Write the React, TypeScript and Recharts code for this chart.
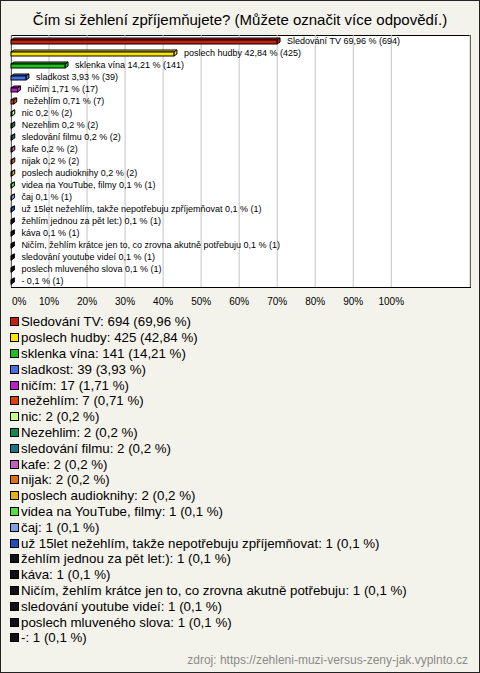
import { Bar, BarChart, CartesianGrid, Cell, LabelList, XAxis, YAxis } from "recharts";

const categories = [
  "Sledování TV",
  "poslech hudby",
  "sklenka vína",
  "sladkost",
  "ničím",
  "nežehlím",
  "nic",
  "Nezehlim",
  "sledování filmu",
  "kafe",
  "nijak",
  "poslech audioknihy",
  "videa na YouTube, filmy",
  "čaj",
  "už 15let nežehlím, takže nepotřebuju zpříjemňovat",
  "žehlím jednou za pět let:)",
  "káva",
  "Ničím, žehlím krátce jen to, co zrovna akutně potřebuju",
  "sledování youtube videí",
  "poslech mluveného slova",
  "-",
];

const counts = [694, 425, 141, 39, 17, 7, 2, 2, 2, 2, 2, 2, 1, 1, 1, 1, 1, 1, 1, 1, 1];

const percents = [69.96, 42.84, 14.21, 3.93, 1.71, 0.71, 0.2, 0.2, 0.2, 0.2, 0.2, 0.2, 0.1, 0.1, 0.1, 0.1, 0.1, 0.1, 0.1, 0.1, 0.1];

const colors = [
  "#c4200c", "#ffe400", "#1fbf1f", "#4470e0", "#c01ec8", "#e0400e", "#c8ff88",
  "#0f8a50", "#16788a", "#c45ec4", "#e07010", "#e4b012", "#50e040", "#80a0e4",
  "#2050c0", "#111111", "#111111", "#111111", "#111111", "#111111", "#111111",
];

const xTicks = [0, 10, 20, 30, 40, 50, 60, 70, 80, 90, 100];

const FONT = '"Liberation Sans", Arial, sans-serif';

const fmt = (v: number) => String(v).replace(".", ",");

const data = categories.map((name, i) => ({
  name,
  pct: percents[i],
  color: colors[i],
  label: `${name} ${fmt(percents[i])} % (${counts[i]})`,
}));

const Bar3D = (props: any) => {
  const { x, y, width, fill } = props;
  const d = 3;
  const w = Math.max(width, 0);
  const top = y;
  const front = y + 2;
  const h = 4;
  return (
    <g stroke="#000" strokeWidth={1} fill={fill}>
      <polygon points={`${x},${front} ${x + d},${top} ${x + w + d},${top} ${x + w},${front}`} />
      <polygon points={`${x + w},${front} ${x + w + d},${top} ${x + w + d},${top + h} ${x + w},${front + h}`} />
      <rect x={x} y={front} width={w} height={h} />
    </g>
  );
};

const BarLabel = (props: any) => {
  const { x, y, width, height, value } = props;
  return (
    <text x={x + width + 10} y={y + height / 2 + 3} fontSize={9} fontFamily={FONT} fill="#000">
      {value}
    </text>
  );
};

const XTick = (props: any) => {
  const { x, y, payload } = props;
  const v = payload.value;
  return (
    <text
      x={v === 0 ? x + 1 : x}
      y={y + 10}
      fontSize={10}
      fontFamily={FONT}
      fill="#000"
      textAnchor={v === 0 ? "start" : "middle"}
    >
      {`${v}%`}
    </text>
  );
};

export default function App() {
  return (
    <div
      style={{
        position: "fixed",
        left: 0,
        top: 0,
        width: 480,
        height: 673,
        background: "#f4f3eb",
        boxShadow: "inset 0 0 0 1px #222",
        fontFamily: FONT,
        overflow: "hidden",
      }}
    >
      <div
        style={{
          position: "absolute",
          left: 0,
          top: 11,
          width: 480,
          textAlign: "center",
          fontSize: 15,
          color: "#000",
        }}
      >
        Čím si žehlení zpříjemňujete? (Můžete označit více odpovědí.)
      </div>
      <div
        style={{
          position: "absolute",
          left: 11,
          top: 35,
          width: 460,
          height: 253,
          boxSizing: "border-box",
          border: "1px solid #000",
          background: "#fff",
        }}
      />
      <div style={{ position: "absolute", left: 0, top: 0 }}>
        <BarChart
          width={480}
          height={310}
          data={data}
          layout="vertical"
          margin={{ top: 35, right: 10, left: 11, bottom: 0 }}
          barCategoryGap={0}
        >
          <CartesianGrid horizontal={false} stroke="#c4c4c4" />
          <XAxis
            type="number"
            domain={[0, 120.7]}
            ticks={xTicks}
            height={23}
            axisLine={false}
            tickLine={false}
            tick={<XTick />}
            interval={0}
          />
          <YAxis type="category" dataKey="name" hide />
          <Bar dataKey="pct" barSize={6} shape={<Bar3D />} isAnimationActive={false}>
            {data.map((entry, index) => (
              <Cell key={`${entry.name}-${index}`} fill={entry.color} />
            ))}
            <LabelList dataKey="label" content={<BarLabel />} />
          </Bar>
        </BarChart>
      </div>
      <div style={{ position: "absolute", left: 10, top: 314 }}>
        {data.map((entry, i) => (
          <div
            key={`${entry.name}-${i}`}
            style={{ height: 15.8, display: "flex", alignItems: "center", fontSize: 13.3, color: "#000", whiteSpace: "nowrap" }}
          >
            <span
              style={{
                display: "inline-block",
                width: 9,
                height: 9,
                boxSizing: "border-box",
                border: "1px solid #000",
                background: entry.color,
                marginRight: 2,
              }}
            />
            {`${entry.name}: ${counts[i]} (${fmt(percents[i])} %)`}
          </div>
        ))}
      </div>
      <div
        style={{
          position: "absolute",
          right: 12,
          top: 653,
          fontSize: 12,
          color: "#8a8a8a",
        }}
      >
        zdroj: https://zehleni-muzi-versus-zeny-jak.vyplnto.cz
      </div>
    </div>
  );
}
